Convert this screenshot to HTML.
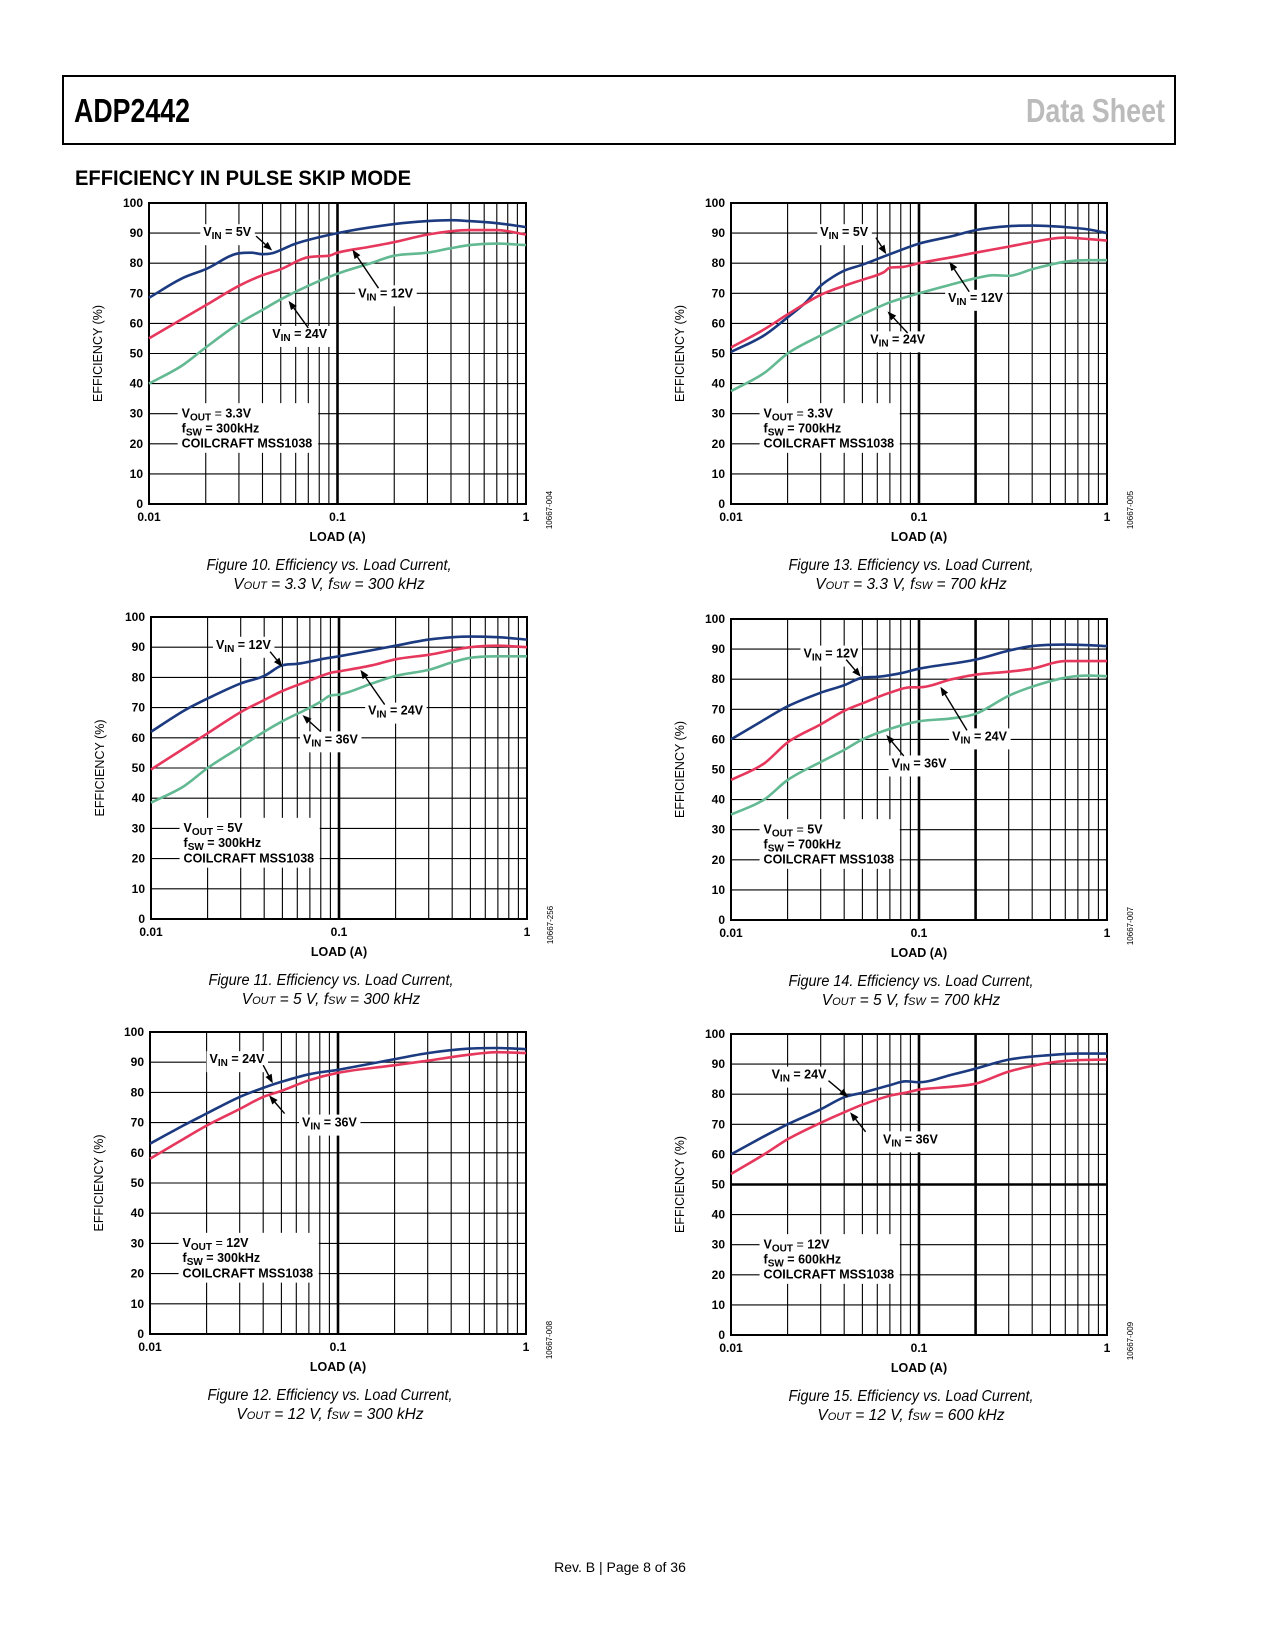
<!DOCTYPE html>
<html><head><meta charset="utf-8"><style>
body{margin:0;background:#fff;}
svg{display:block;font-family:"Liberation Sans",Arial,sans-serif;}
</style></head><body>
<svg id="page" width="1275" height="1650" viewBox="0 0 1275 1650" xmlns="http://www.w3.org/2000/svg">
<rect x="63" y="76" width="1112" height="68" fill="none" stroke="#000" stroke-width="2"/>
<text x="74" y="122" font-weight="bold" font-size="33" textLength="116" lengthAdjust="spacingAndGlyphs">ADP2442</text>
<text x="1026" y="122" fill="#bbb" font-weight="bold" font-size="33" textLength="139" lengthAdjust="spacingAndGlyphs">Data Sheet</text>
<text x="75" y="185" font-weight="bold" font-size="21" textLength="336" lengthAdjust="spacingAndGlyphs">EFFICIENCY IN PULSE SKIP MODE</text>
<text x="620" y="1572" text-anchor="middle" font-size="14">Rev. B | Page 8 of 36</text>
</svg>
<script>
const NS="http://www.w3.org/2000/svg";
const svg=document.getElementById('page');
const yTicks=[0,10,20,30,40,50,60,70,80,90,100];
const xTickLabels=["0.01","0.1","1"];
const xTickValues=[0.01,0.1,1];
const BLUE="#1b3a80",RED="#e6375c",GREEN="#62b992";

// Figure 10
const f10x=[0.01,0.015,0.02,0.03,0.035,0.04,0.045,0.06,0.1,0.2,0.3,0.4,0.5,0.7,1];
const f10blue=[68.5,75,78,83.3,83.5,83,83.3,86.5,90,93,94,94.3,94,93.3,92];
const f10redX=[0.01,0.02,0.03,0.04,0.05,0.07,0.09,0.1,0.15,0.2,0.3,0.5,0.7,1];
const f10red=[55,66,72.5,76,78,82,82.5,83.5,85.5,87,89.5,91,91,89.5];
const f10greenX=[0.01,0.015,0.02,0.03,0.04,0.05,0.07,0.1,0.15,0.2,0.3,0.4,0.5,0.7,1];
const f10green=[40,46,52,60,64.5,68,72.5,76.5,80,82.5,83.5,85,86,86.5,86];
// Figure 13
const f13blueX=[0.01,0.015,0.02,0.025,0.03,0.035,0.04,0.05,0.07,0.1,0.15,0.2,0.3,0.4,0.6,0.8,1];
const f13blue=[50.5,56,62,67,72.5,75.5,77.5,79.5,83,86.5,89,91,92.3,92.5,92,91.2,90];
const f13redX=[0.01,0.015,0.02,0.03,0.04,0.05,0.065,0.07,0.08,0.1,0.15,0.2,0.3,0.4,0.6,0.8,1];
const f13red=[52,58,63,69.5,72.5,74.5,77,78.5,78.7,80,82,83.5,85.5,87,88.5,88,87.5];
const f13greenX=[0.01,0.015,0.02,0.03,0.04,0.05,0.07,0.1,0.15,0.2,0.25,0.3,0.4,0.6,0.8,1];
const f13green=[37.5,43.5,50,56,60,63,67,70,73,75,76,75.8,78,80.5,81,81];
// Figure 11
const f11blueX=[0.01,0.015,0.02,0.03,0.04,0.05,0.06,0.08,0.1,0.2,0.3,0.5,0.7,1];
const f11blue=[62,69,73,78,80.5,84,84.5,86,87,90.5,92.5,93.5,93.3,92.5];
const f11redX=[0.01,0.02,0.03,0.04,0.05,0.07,0.09,0.1,0.15,0.2,0.3,0.5,0.7,1];
const f11red=[49.5,61.5,68.5,72.5,75.5,79,81.5,82,84,86,87.5,90,90.5,90];
const f11greenX=[0.01,0.015,0.02,0.03,0.04,0.05,0.07,0.08,0.09,0.1,0.15,0.2,0.3,0.4,0.5,0.7,1];
const f11green=[38.5,44,50,57,62,65.5,70,72,74,74.3,78,80.5,82.5,85,86.5,87,87];
// Figure 14
const f14blueX=[0.01,0.015,0.02,0.03,0.04,0.05,0.06,0.08,0.1,0.2,0.3,0.4,0.6,0.8,1];
const f14blue=[60,66.5,71,75.5,78,80.5,80.8,82,83.5,86.5,89.5,91,91.5,91.3,91];
const f14redX=[0.01,0.015,0.02,0.03,0.04,0.05,0.07,0.09,0.1,0.15,0.2,0.3,0.4,0.6,1];
const f14red=[46.5,52,59,65,69.5,72,75.5,77.3,77.3,80,81.5,82.5,83.5,86,86];
const f14greenX=[0.01,0.015,0.02,0.03,0.04,0.05,0.07,0.1,0.15,0.2,0.3,0.4,0.6,0.8,1];
const f14green=[35,40,46.5,52.5,56.5,60,63.5,66,67,68.5,74.5,77.5,80.5,81.2,81];
// Figure 12
const f12blueX=[0.01,0.015,0.02,0.03,0.04,0.05,0.07,0.1,0.2,0.3,0.5,0.7,1];
const f12blue=[63,69,73,78.5,81.5,83.5,86,87.5,91,93,94.5,94.7,94.3];
const f12red=[58,64.5,69,74.5,78.5,80.5,84,86.5,89,90.5,92.5,93.3,93];
// Figure 15
const f15blueX=[0.01,0.015,0.02,0.03,0.04,0.05,0.07,0.085,0.1,0.15,0.2,0.3,0.5,0.7,1];
const f15blue=[60,66,70,75,79,80.5,83,84.3,84,86.5,88.5,91.5,93,93.5,93.5];
const f15red=[53.5,60,65,70.5,74,76.5,79.5,80.5,81.5,82.5,83.5,87.5,90.5,91.3,91.5];

const charts=[
 {id:"fig10",L:149,T:203,R:526,B:504,thickX:[0.1],thickY:[],code:"10667-004",
  cap1:"Figure 10. Efficiency vs. Load Current,",cap2:["3.3 V","300 kHz"],
  series:[[f10x,f10blue,BLUE,"vin-5v"],[f10redX,f10red,RED,"vin-12v"],[f10greenX,f10green,GREEN,"vin-24v"]],
  labels:[["5V",0.026,90.3,0.037,89,0.045,84.2],["12V",0.18,70,0.165,71.7,0.12,84.5],["24V",0.063,56.5,0.07,58.5,0.055,67.5]],
  info:["3.3V","300kHz"]},
 {id:"fig13",L:731,T:203,R:1107,B:504,thickX:[0.1,0.2],thickY:[],code:"10667-005",
  cap1:"Figure 13. Efficiency vs. Load Current,",cap2:["3.3 V","700 kHz"],
  series:[[f13blueX,f13blue,BLUE,"vin-5v"],[f13redX,f13red,RED,"vin-12v"],[f13greenX,f13green,GREEN,"vin-24v"]],
  labels:[["5V",0.04,90.3,0.059,88.5,0.067,83],["12V",0.2,68.5,0.185,70.5,0.145,80.5],["24V",0.077,54.7,0.087,56.8,0.068,64]],
  info:["3.3V","700kHz"]},
 {id:"fig11",L:151,T:617,R:527,B:919,thickX:[0.1],thickY:[],code:"10667-256",
  cap1:"Figure 11. Efficiency vs. Load Current,",cap2:["5 V","300 kHz"],
  series:[[f11blueX,f11blue,BLUE,"vin-12v"],[f11redX,f11red,RED,"vin-24v"],[f11greenX,f11green,GREEN,"vin-36v"]],
  labels:[["12V",0.031,90.8,0.043,88.5,0.05,83.5],["24V",0.2,69,0.175,71,0.13,82.5],["36V",0.09,59.5,0.08,62,0.064,67.5]],
  info:["5V","300kHz"]},
 {id:"fig14",L:731,T:619,R:1107,B:920,thickX:[0.1,0.2],thickY:[],code:"10667-007",
  cap1:"Figure 14. Efficiency vs. Load Current,",cap2:["5 V","700 kHz"],
  series:[[f14blueX,f14blue,BLUE,"vin-12v"],[f14redX,f14red,RED,"vin-24v"],[f14greenX,f14green,GREEN,"vin-36v"]],
  labels:[["12V",0.034,88.5,0.041,86.5,0.049,80.8],["24V",0.21,61,0.18,63,0.13,77.5],["36V",0.1,52,0.083,54.5,0.067,61.5]],
  info:["5V","700kHz"]},
 {id:"fig12",L:150,T:1032,R:526,B:1334,thickX:[0.1],thickY:[],code:"10667-008",
  cap1:"Figure 12. Efficiency vs. Load Current,",cap2:["12 V","300 kHz"],
  series:[[f12blueX,f12blue,BLUE,"vin-24v"],[f12blueX,f12red,RED,"vin-36v"]],
  labels:[["24V",0.029,91,0.04,89,0.045,83],["36V",0.09,70,0.052,73,0.043,79]],
  info:["12V","300kHz"]},
 {id:"fig15",L:731,T:1034,R:1107,B:1335,thickX:[0.1,0.2],thickY:[50],code:"10667-009",
  cap1:"Figure 15. Efficiency vs. Load Current,",cap2:["12 V","600 kHz"],
  series:[[f15blueX,f15blue,BLUE,"vin-24v"],[f15blueX,f15red,RED,"vin-36v"]],
  labels:[["24V",0.023,86.5,0.033,84.5,0.042,79],["36V",0.09,65,0.052,67.5,0.043,74]],
  info:["12V","600kHz"]}
];

function mk(tag,attrs,parent){const e=document.createElementNS(NS,tag);for(const k in attrs)e.setAttribute(k,attrs[k]);(parent||svg).appendChild(e);return e;}

// monotone-ish smoothing (Fritsch-Carlson) to avoid overshoot wiggles
function smoothPath(pts){
 const n=pts.length;const d=[],m=[];
 for(let i=0;i<n-1;i++)d.push((pts[i+1][1]-pts[i][1])/(pts[i+1][0]-pts[i][0]));
 m[0]=d[0];m[n-1]=d[n-2];
 for(let i=1;i<n-1;i++){m[i]=(d[i-1]*d[i]<=0)?0:(d[i-1]+d[i])/2;}
 for(let i=0;i<n-1;i++){if(d[i]===0){m[i]=0;m[i+1]=0;continue;}const a=m[i]/d[i],b=m[i+1]/d[i],s=a*a+b*b;if(s>9){const t=3/Math.sqrt(s);m[i]=t*a*d[i];m[i+1]=t*b*d[i];}}
 let p="M"+pts[0][0].toFixed(1)+","+pts[0][1].toFixed(1);
 for(let i=0;i<n-1;i++){
  const h=(pts[i+1][0]-pts[i][0])/3;
  p+=" C"+(pts[i][0]+h).toFixed(1)+","+(pts[i][1]+m[i]*h).toFixed(1)+" "+(pts[i+1][0]-h).toFixed(1)+","+(pts[i+1][1]-m[i+1]*h).toFixed(1)+" "+pts[i+1][0].toFixed(1)+","+pts[i+1][1].toFixed(1);
 }
 return p;
}

charts.forEach(c=>{
 const g=mk('g',{});
 
 
 const W=c.R-c.L,H=c.B-c.T;
 const X=v=>c.L+(Math.log10(v)+2)/2*W;
 const Y=v=>c.B-v/100*H;
 const grid=mk('g',{stroke:'#000'},g);
 
 
 for(let dec=0.01;dec<1;dec*=10){
  for(let m=2;m<=9;m++){
   const v=dec*m;const thick=c.thickX.some(t=>Math.abs(t-v)<1e-9);
   mk('line',{x1:X(v),x2:X(v),y1:c.T,y2:c.B,'stroke-width':thick?2.6:1.1},grid);
  }
 }
 mk('line',{x1:X(0.1),x2:X(0.1),y1:c.T,y2:c.B,'stroke-width':2.6},grid);
 yTicks.forEach(t=>{
  if(t===0||t===100)return;
  const thick=c.thickY.includes(t);
  mk('line',{x1:c.L,x2:c.R,y1:Y(t),y2:Y(t),'stroke-width':thick?2.6:1.1},grid);
 });
 const ix=X(0.0149);
 mk('rect',{x:ix-4,y:Y(33.5),width:X(0.079)-ix+4,height:Y(17)-Y(33.5),fill:'#fff'},g);
 const info=mk('text',{x:ix,y:Y(28.8),'font-size':12.5,'font-weight':'bold'},g);
 
 
 info.innerHTML='V<tspan font-size="10" dy="3">OUT</tspan><tspan dy="-3" font-weight="normal"> = </tspan>'+c.info[0];
 const i2=mk('text',{x:ix,y:Y(23.8),'font-size':12.5,'font-weight':'bold'},g);
 
 
 i2.innerHTML='f<tspan font-size="10" dy="3">SW</tspan><tspan dy="-3"> = </tspan>'+c.info[1];
 const i3=mk('text',{x:ix,y:Y(18.7),'font-size':12.5,'font-weight':'bold'},g);
 
 
 i3.textContent='COILCRAFT MSS1038';
 const fr=mk('rect',{x:c.L,y:c.T,width:W,height:H,fill:'none',stroke:'#000','stroke-width':2},g);
 
 
 c.series.forEach(s=>{
  const pts=s[0].map((x,i)=>[X(x),Y(s[1][i])]);
  const p=mk('path',{d:smoothPath(pts),fill:'none',stroke:s[2],'stroke-width':2.6,'stroke-linejoin':'round'},g);
  
  
 });
 c.labels.forEach(l=>{
  const t=mk('text',{x:X(l[1]),y:Y(l[2])+4,'text-anchor':'middle','font-size':12.5,'font-weight':'bold'},g);
  
  
  t.innerHTML='V<tspan font-size="10" dy="3">IN</tspan><tspan dy="-3"> = </tspan>'+l[0];
  const bb=t.getBBox();
  const r=mk('rect',{x:bb.x-3,y:bb.y-1,width:bb.width+6,height:bb.height+4,fill:'#fff'},g);
  g.insertBefore(r,t);
  const x1=X(l[3]),y1=Y(l[4]),x2=X(l[5]),y2=Y(l[6]);
  const ang=Math.atan2(y2-y1,x2-x1),len=9,wd=3.5;
  const bx=x2-len*Math.cos(ang),by=y2-len*Math.sin(ang);
  const a=mk('line',{x1:x1,y1:y1,x2:bx,y2:by,stroke:'#000','stroke-width':1.4},g);
  
  
  mk('polygon',{points:`${x2},${y2} ${bx+wd*Math.sin(ang)},${by-wd*Math.cos(ang)} ${bx-wd*Math.sin(ang)},${by+wd*Math.cos(ang)}`,fill:'#000'},g);
 });
 yTicks.forEach(t=>{
  const tl=mk('text',{x:c.L-6,y:Y(t)+4,'text-anchor':'end','font-size':12,'font-weight':'bold'},g);
  
  
  tl.textContent=t;
 });
 xTickValues.forEach((v,i)=>{
  const tl=mk('text',{x:X(v),y:c.B+17,'text-anchor':'middle','font-size':12,'font-weight':'bold'},g);
  
  
  tl.textContent=xTickLabels[i];
 });
 const xt=mk('text',{x:X(0.1),y:c.B+37,'text-anchor':'middle','font-size':12.5,'font-weight':'bold'},g);
 
 
 xt.textContent='LOAD (A)';
 const yx=c.L-47,yy=(c.T+c.B)/2;
 const yt=mk('text',{x:yx,y:yy,'text-anchor':'middle','font-size':12.5,transform:`rotate(-90 ${yx} ${yy})`},g);
 
 
 yt.textContent='EFFICIENCY (%)';
 const cx=c.R+26,cy=c.B+6;
 const cd=mk('text',{x:cx,y:cy,'text-anchor':'middle','font-size':8,transform:`rotate(-90 ${cx} ${cy})`},g);
 
 
 cd.textContent=c.code;
 const capx=c.L+180;
 const cap=mk('text',{x:capx,y:c.B+66,'text-anchor':'middle','font-size':15.5,'font-style':'italic','textLength':245,'lengthAdjust':'spacingAndGlyphs'},g);
 
 
 cap.textContent=c.cap1;
 const cap2=mk('text',{x:capx,y:c.B+85,'text-anchor':'middle','font-size':15.5,'font-style':'italic'},g);
 
 
 cap2.innerHTML='V<tspan font-size="11">OUT</tspan> = '+c.cap2[0]+', f<tspan font-size="11">SW</tspan> = '+c.cap2[1];
});
</script>
</body></html>
